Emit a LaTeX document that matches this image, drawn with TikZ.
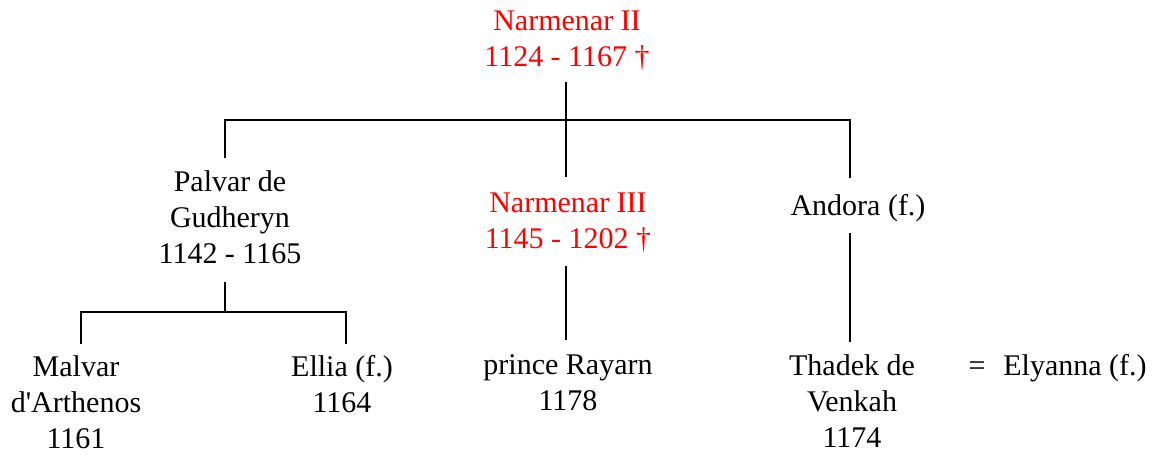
\documentclass[tikz,border=0pt]{standalone}
\usepackage{fontspec}
\setmainfont{Liberation Serif}
\begin{document}
\begin{tikzpicture}[x=1pt,y=-1pt,
  person/.style={inner sep=0pt,align=center,anchor=base,
    font=\fontsize{30}{36}\selectfont},
  heir/.style={person,text=red},
  kin/.style={line width=1.5pt,line cap=rect}]
\useasboundingbox (0,0) rectangle (1158,457);

% people (placed by the baseline of their last line)
\node[heir]   (narII)  at (567,67)  {Narmenar II\\1124 - 1167 †};
\node[person] (palvar) at (230,263) {Palvar de\\Gudheryn\\1142 - 1165};
\node[heir]   (narIII) at (568,248) {Narmenar III\\1145 - 1202 †};
\node[person] (andora) at (858,215) {Andora (f.)};
\node[person] (malvar) at (76,448)  {Malvar\\d\textquotesingle Arthenos\\1161};
\node[person] (ellia)  at (342,412) {Ellia (f.)\\1164};
\node[person] (rayarn) at (568,410) {prince Rayarn\\1178};
\node[person] (thadek) at (852,447) {Thadek de\\Venkah\\1174};
\node[person] (wed)    at (977,375) {=};
\node[person] (elyanna) at (1075,375) {Elyanna (f.)};

% junctions of the family bars
\coordinate (topL) at (225,120);
\coordinate (topM) at (566,120);
\coordinate (topR) at (850,120);
\coordinate (subL) at (81,312);
\coordinate (subM) at (225,312);
\coordinate (subR) at (346,312);

% children of Narmenar II
\draw[kin,shorten <=12pt,shorten >=16pt] (narII.south -| topM) -- (narIII.north -| topM);
\draw[kin,shorten <=13pt,shorten >=16pt] (palvar.north -| topL) -- (topL) -- (topR) -- (andora.north -| topR);

% children of Palvar de Gudheryn
\draw[kin,shorten <=19pt] (palvar.south -| subM) -- (subM);
\draw[kin,shorten <=12pt,shorten >=11pt] (malvar.north -| subL) -- (subL) -- (subR) -- (ellia.north -| subR);

% single lines of descent
\draw[kin,shorten <=15pt,shorten >=15pt] (narIII.south -| topM) -- (rayarn.north -| topM);
\draw[kin,shorten <=12pt,shorten >=13pt] (andora.south -| topR) -- (thadek.north -| topR);
\end{tikzpicture}
\end{document}
